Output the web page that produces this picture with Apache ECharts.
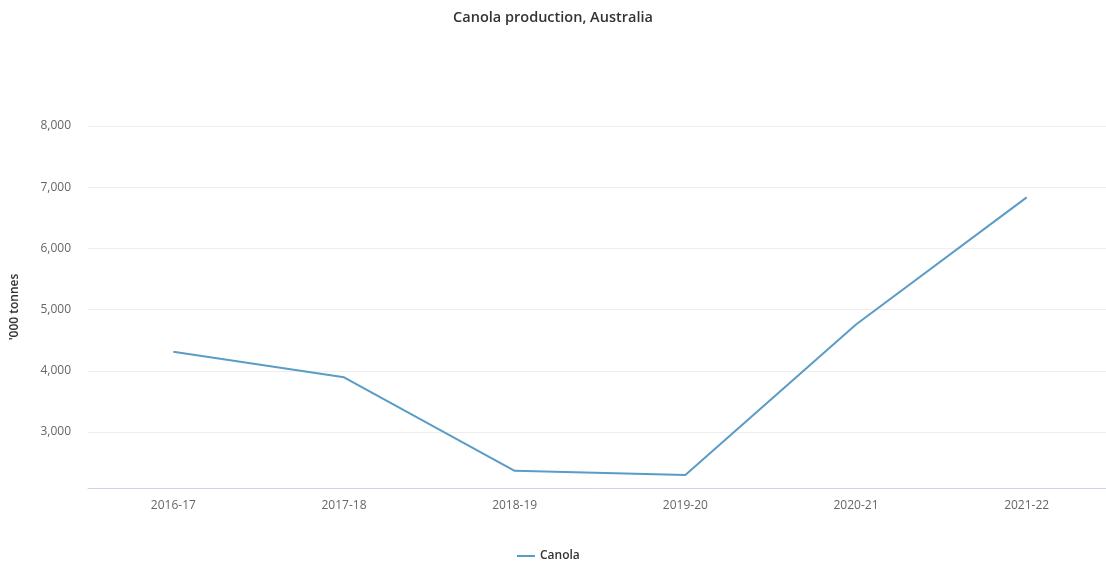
<!DOCTYPE html>
<html>
<head>
<meta charset="utf-8">
<title>Canola production, Australia</title>
<script src="https://cdn.jsdelivr.net/npm/echarts@6/dist/echarts.min.js"></script>
<style>
  html, body { margin: 0; padding: 0; background: #ffffff; overflow: hidden; }
  #chart { width: 1106px; height: 569px; }
</style>
</head>
<body>
<div id="chart"></div>
<script>
// Marketing years
const seasons = ['2016-17', '2017-18', '2018-19', '2019-20', '2020-21', '2021-22'];
// Canola production, thousand tonnes
const canola = [4313, 3893, 2366, 2299, 4756, 6833];
// Labelled y-axis ticks
const yTicks = [3000, 4000, 5000, 6000, 7000, 8000];

const FONT = '"Open Sans", "Noto Sans", sans-serif';

const chart = echarts.init(document.getElementById('chart'), null, { renderer: 'canvas' });

chart.setOption({
  animation: false,
  backgroundColor: '#ffffff',
  title: {
    text: 'Canola production, Australia',
    left: 'center',
    top: 5,
    textStyle: { fontFamily: FONT, fontSize: 14.5, fontWeight: 600, color: '#333333' }
  },
  legend: {
    bottom: 2,
    left: 512,
    icon: 'rect',
    itemWidth: 18,
    itemHeight: 2,
    itemGap: 20,
    textStyle: { fontFamily: FONT, fontSize: 12, fontWeight: 600, color: '#333333' },
    data: ['Canola']
  },
  grid: {
    left: 88,
    top: 126,
    width: 1024,
    height: 362,
    containLabel: false,
    outerBoundsMode: 'none'
  },
  xAxis: {
    type: 'category',
    data: seasons,
    boundaryGap: true,
    axisLine: { show: true, lineStyle: { color: '#ccd6eb', width: 1 } },
    axisTick: { show: false },
    axisLabel: {
      margin: 12,
      fontFamily: FONT,
      fontSize: 12,
      color: '#666666'
    },
    splitLine: { show: false }
  },
  yAxis: {
    type: 'value',
    min: 2085,
    max: 8000,
    name: "'000 tonnes",
    nameLocation: 'middle',
    nameGap: 67,
    nameRotate: 90,
    nameTextStyle: { fontFamily: FONT, fontSize: 12, fontWeight: 600, color: '#333333' },
    axisLine: { show: false },
    axisTick: { show: false, customValues: yTicks },
    axisLabel: {
      customValues: yTicks,
      margin: 17,
      fontFamily: FONT,
      fontSize: 12,
      color: '#666666',
      formatter: v => v.toLocaleString('en-US')
    },
    splitLine: { show: true, lineStyle: { color: '#eeeeee', width: 1 } }
  },
  series: [{
    name: 'Canola',
    type: 'line',
    data: canola,
    symbol: 'none',
    smooth: false,
    color: '#5b9cc6',
    lineStyle: { width: 2, color: '#5b9cc6' }
  }]
});
</script>
</body>
</html>
